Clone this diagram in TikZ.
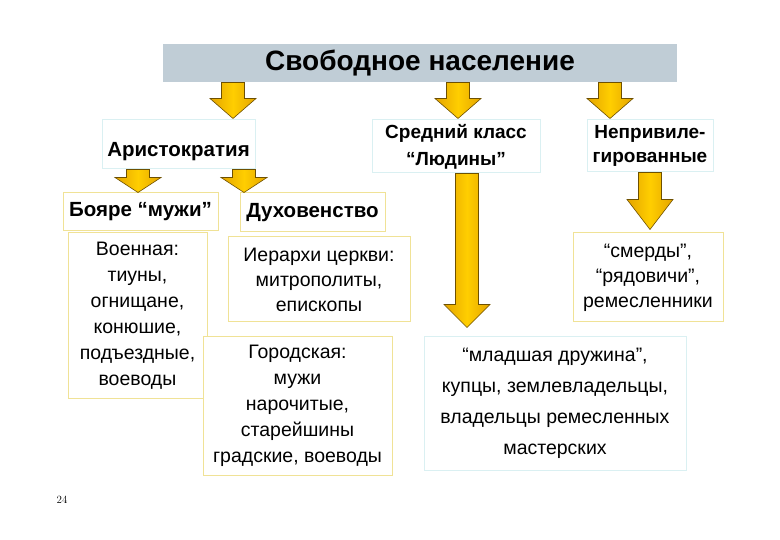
\documentclass[tikz,border=0pt]{standalone}
\usepackage{fontspec}
\setsansfont{Liberation Sans}
\usepackage{tikz}
\usetikzlibrary{calc}
\definecolor{titlegray}{RGB}{192,205,214}
\definecolor{goldline}{RGB}{240,226,150}
\definecolor{paleblue}{RGB}{218,240,242}
\definecolor{arrowgold}{RGB}{255,206,0}
\definecolor{arrowdark}{RGB}{228,164,0}
\definecolor{arrowedge}{RGB}{110,80,0}

\newcommand{\shafthw}{11.5pt}
\newcommand{\headhw}{23pt}
% #1 x of the arrow, #2 from node, #3 to node, #4 head length, #5 gap at the tip
\newcommand{\blockarrow}[5]{%
  \draw[fatarrow] let \p1=(#2.south), \p2=(#3.north) in
    ({#1pt-\shafthw},\y1) -- ({#1pt+\shafthw},\y1) -- ({#1pt+\shafthw},{\y2+#5pt+#4pt})
    -- ({#1pt+\headhw},{\y2+#5pt+#4pt}) -- ({#1pt},{\y2+#5pt}) -- ({#1pt-\headhw},{\y2+#5pt+#4pt})
    -- ({#1pt-\shafthw},{\y2+#5pt+#4pt}) -- cycle;}

\begin{document}
\begin{tikzpicture}[x=1pt, y=-1pt,
    box/.style={rectangle, draw=goldline, fill=white, line width=1pt, align=center, inner sep=0pt, font=\sffamily\fontsize{19.5}{26}\selectfont},
    headbox/.style={box, draw=paleblue, font=\sffamily\bfseries\fontsize{20.5}{25}\selectfont},
    fatarrow/.style={draw=arrowedge, line width=0.6pt, left color=arrowdark, right color=arrowdark, middle color=arrowgold}
]
\fill[white] (0,0) rectangle (780,540);

\node[box, draw=none, fill=titlegray, minimum width=514, minimum height=38, font=\sffamily\bfseries\fontsize{28}{32}\selectfont] (free) at (420,63) {Свободное население};

\node[headbox, minimum width=153, minimum height=49, text height=28pt, text depth=4pt] (aristo) at (178.5,144.5) {Аристократия};
\node[headbox, minimum width=168, minimum height=53, font=\sffamily\bfseries\fontsize{19}{27}\selectfont] (middle) at (456,146.5) {Средний класс\\“Людины”};
\node[headbox, minimum width=126, minimum height=52, font=\sffamily\bfseries\fontsize{19}{24}\selectfont] (unpriv) at (650,146) {Непривиле-\\гированные};

\node[box, minimum width=155, minimum height=38, font=\sffamily\bfseries\fontsize{20.5}{25}\selectfont] (boyars) at (140.5,212) {Бояре “мужи”};
\node[box, minimum width=145, minimum height=39, font=\sffamily\bfseries\fontsize{20.5}{25}\selectfont] (clergy) at (312.5,212.5) {Духовенство};

\node[box, minimum width=139, minimum height=165] (military) at (137.5,315.5) {Военная:\\тиуны,\\огнищане,\\конюшие,\\подъездные,\\воеводы};
\node[box, minimum width=182, minimum height=85, font=\sffamily\fontsize{19.5}{25}\selectfont] (hierarchs) at (319,279.5) {Иерархи церкви:\\митрополиты,\\епископы};
\node[box, minimum width=189, minimum height=138] (town) at (297.5,406) {Городская:\\мужи\\нарочитые,\\старейшины\\градские, воеводы};
\node[box, minimum width=150, minimum height=89, font=\sffamily\fontsize{19.5}{25}\selectfont] (smerdy) at (648,277.5) {“смерды”,\\“рядовичи”,\\ремесленники};
\node[box, draw=paleblue, minimum width=262, minimum height=133, font=\sffamily\fontsize{19.5}{31}\selectfont] (junior) at (555,403.5) {“младшая дружина”,\\купцы, землевладельцы,\\владельцы ремесленных\\мастерских};

\node[font=\rmfamily\fontsize{11}{13}\selectfont] (page) at (62,500) {24};

\blockarrow{233}{free}{aristo}{20}{1}
\blockarrow{458}{free}{middle}{20}{1}
\blockarrow{610}{free}{unpriv}{20}{1}
\blockarrow{138}{aristo}{boyars}{15}{0}
\blockarrow{244}{aristo}{clergy}{15}{0}
\blockarrow{467}{middle}{junior}{23}{9}
\blockarrow{650}{unpriv}{smerdy}{30}{3}

\end{tikzpicture}
\end{document}
